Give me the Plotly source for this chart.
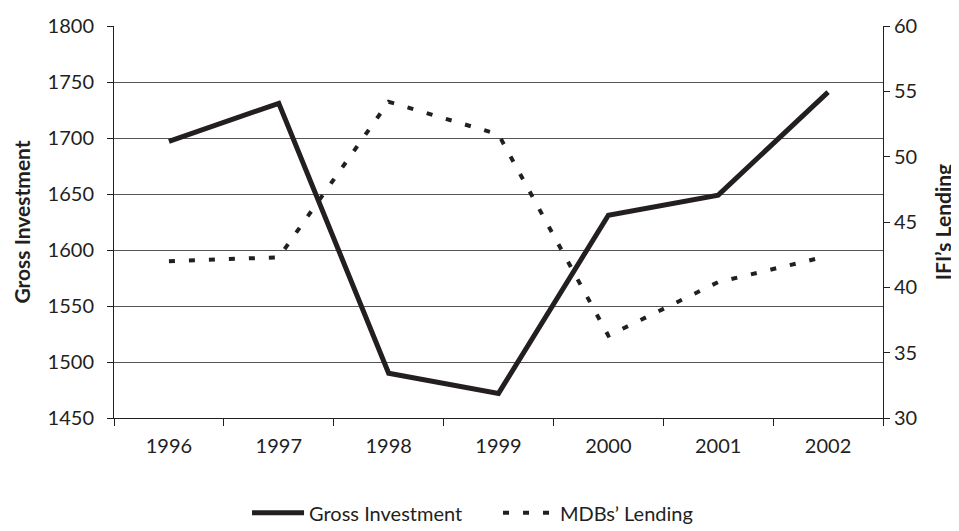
import plotly.graph_objects as go

# data
years = ["1996", "1997", "1998", "1999", "2000", "2001", "2002"]
gross_investment = [1697, 1731, 1490, 1472, 1631, 1649, 1741]
mdb_lending = [42.0, 42.3, 54.2, 51.7, 36.3, 40.4, 42.4]

ink = "#231f20"
grid = "#555555"

fig = go.Figure()

fig.add_trace(
    go.Scatter(
        x=years,
        y=gross_investment,
        name="Gross Investment",
        mode="lines",
        line=dict(color=ink, width=5),
        yaxis="y",
    )
)
fig.add_trace(
    go.Scatter(
        x=years,
        y=mdb_lending,
        name="MDBs\u2019 Lending",
        mode="lines",
        line=dict(color=ink, width=4, dash="6px,14px"),
        yaxis="y2",
    )
)

# the page body adds an 8px offset, so the figure is sized a bit smaller
fig.update_layout(
    width=951,
    height=523,
    margin=dict(l=106, r=76, t=18, b=113, autoexpand=False),
    paper_bgcolor="white",
    plot_bgcolor="white",
    font=dict(family="Lato, 'Open Sans', sans-serif", size=20, color=ink),
    showlegend=True,
    legend=dict(
        orientation="h",
        x=0.173,
        xanchor="left",
        y=-0.242,
        yanchor="middle",
        font=dict(size=20),
        itemwidth=52,
        entrywidth=184,
        tracegroupgap=0,
    ),
    xaxis=dict(
        type="category",
        range=[-0.5, 6.5],
        tickson="boundaries",
        ticks="outside",
        ticklen=7,
        tickcolor=ink,
        ticklabelstandoff=10,
        showgrid=False,
        showline=True,
        linecolor=ink,
        linewidth=1,
        zeroline=False,
        automargin=False,
    ),
    yaxis=dict(
        range=[1450, 1800],
        dtick=50,
        ticks="outside",
        ticklen=6,
        tickcolor=ink,
        ticklabelstandoff=9,
        showline=True,
        linecolor=ink,
        linewidth=1,
        showgrid=True,
        gridcolor=grid,
        gridwidth=1,
        zeroline=False,
        automargin=False,
        title=dict(
            text="<b>Gross Investment</b>",
            font=dict(size=21),
            standoff=11,
        ),
    ),
    yaxis2=dict(
        range=[30, 60],
        dtick=5,
        overlaying="y",
        side="right",
        ticks="outside",
        ticklen=6,
        tickcolor=ink,
        showline=True,
        linecolor=ink,
        linewidth=1,
        showgrid=False,
        zeroline=False,
        automargin=False,
        title=dict(
            text="<b>IFI\u2019s Lending</b>",
            font=dict(size=21),
            standoff=20,
        ),
    ),
)

fig.write_html("out.html")
